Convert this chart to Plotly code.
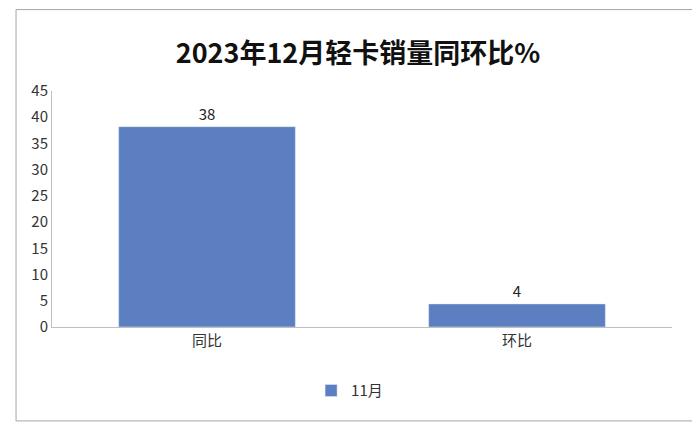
import plotly.graph_objects as go

categories = ['同比', '环比']
values = [38.2, 4.4]
labels = ['38', '4']
series_name = '11月'

fig = go.Figure()
fig.add_trace(go.Bar(x=categories, y=values, name=series_name, text=labels,
                     textposition='outside', marker_color='#5B7FC0', width=0.57,
                     textfont=dict(size=15, color='#222'), cliponaxis=False))

# plot area in pixels: x 44..664, y 83..319
fig.update_layout(
    width=700, height=430,
    paper_bgcolor='white', plot_bgcolor='white',
    font=dict(family='Noto Sans CJK SC', size=15, color='#333'),
    title=dict(text='<b>2023年12月轻卡销量同环比%</b>', x=0.5, xanchor='center',
               y=0.895, yanchor='middle', font=dict(size=27, color='#111')),
    margin=dict(l=44, r=36, t=83, b=111),
    showlegend=True,
    legend=dict(orientation='h', x=0.48, xanchor='center', y=-0.2, yanchor='top',
                font=dict(size=15)),
    yaxis=dict(range=[0, 45], dtick=5, showgrid=False, showline=True,
               linecolor='#bfbfbf', ticks='', zeroline=False),
    xaxis=dict(showline=True, linecolor='#bfbfbf', ticks=''),
    shapes=[dict(type='rect', xref='paper', yref='paper', x0=-0.058, x1=1.042,
                 y0=-0.398, y1=1.345, line=dict(color='#a6a6a6', width=1))],
)

fig.write_html('out.html')
